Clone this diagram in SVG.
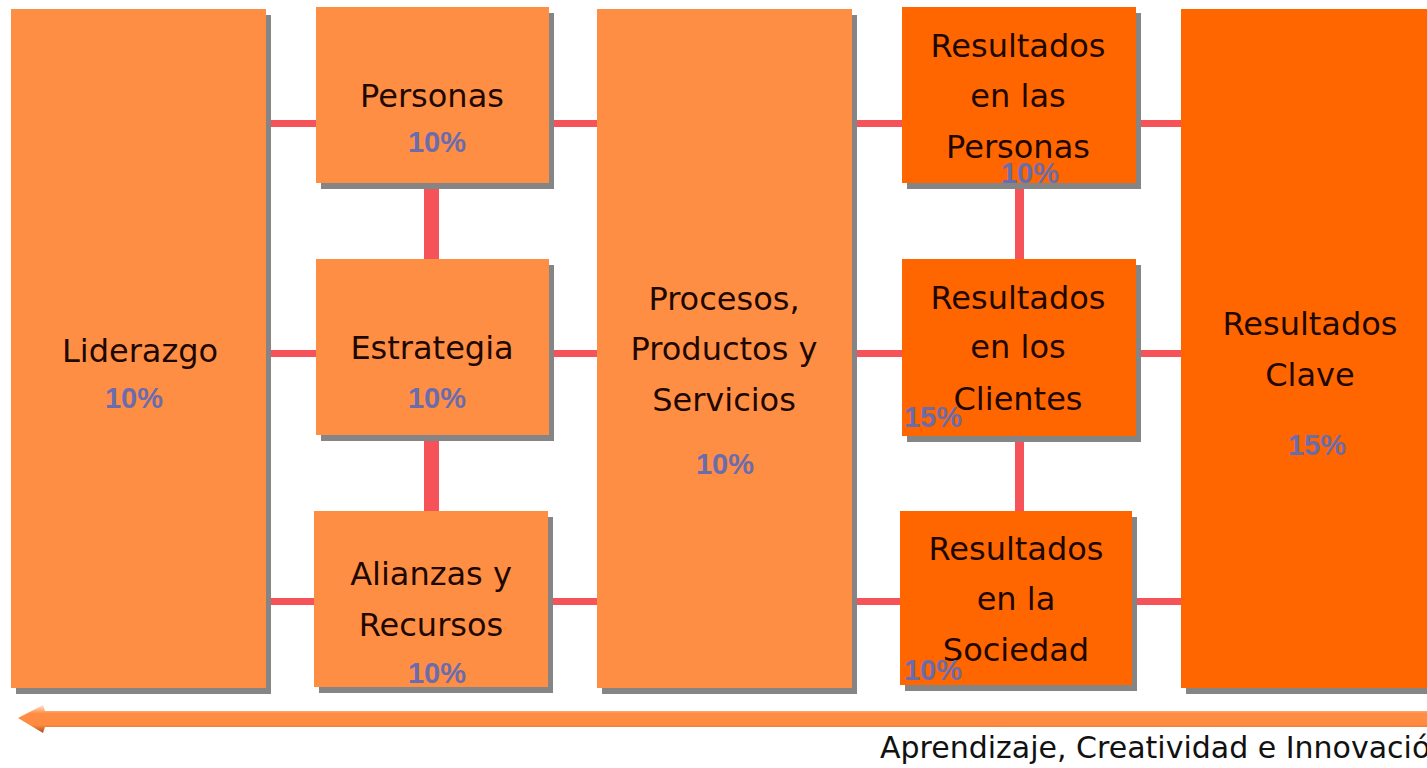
<svg xmlns="http://www.w3.org/2000/svg" width="1427" height="768" viewBox="0 0 1427 768">
<defs>
<linearGradient id="arrowGrad" x1="0" y1="0" x2="0" y2="1">
<stop offset="0" stop-color="#FFE2CC"/>
<stop offset="0.3" stop-color="#FF8E45"/>
<stop offset="0.72" stop-color="#FF8A40"/>
<stop offset="1" stop-color="#A84E1A"/>
</linearGradient>
<style>
.shadow{fill:#858585}
.light{fill:#FF8E45}
.dark{fill:#FF6600}
.lbl{font-family:"DejaVu Sans",sans-serif;font-size:32px;fill:#1E0800;text-anchor:middle}
.pct{font-family:"Liberation Sans",sans-serif;font-weight:bold;font-size:29px;fill:#6A6CAD;text-anchor:middle}
.conn{fill:#F5525A}
.foot{font-family:"DejaVu Sans",sans-serif;font-size:30px;fill:#111111}
</style>
</defs>
<rect width="1427" height="768" fill="#FFFFFF"/>
<g id="connectors">
<rect class="conn" x="266" y="120" width="52" height="7"/>
<rect class="conn" x="266" y="350" width="52" height="7"/>
<rect class="conn" x="266" y="598" width="52" height="7"/>
<rect class="conn" x="549" y="120" width="50" height="7"/>
<rect class="conn" x="549" y="350" width="50" height="7"/>
<rect class="conn" x="548" y="598" width="51" height="7"/>
<rect class="conn" x="852" y="120" width="52" height="7"/>
<rect class="conn" x="852" y="350" width="52" height="7"/>
<rect class="conn" x="852" y="598" width="50" height="7"/>
<rect class="conn" x="1136" y="120" width="47" height="7"/>
<rect class="conn" x="1136" y="350" width="47" height="7"/>
<rect class="conn" x="1132" y="598" width="51" height="7"/>
<rect class="conn" x="424" y="183" width="15" height="78"/>
<rect class="conn" x="424" y="435" width="15" height="78"/>
<rect class="conn" x="1015" y="183" width="9" height="78"/>
<rect class="conn" x="1015" y="436" width="9" height="77"/>
</g>
<g id="liderazgo">
<rect class="shadow" x="16" y="15" width="255" height="679"/>
<rect class="light" x="11" y="9" width="255" height="679"/>
<text class="lbl" x="140" y="362">Liderazgo</text>
<text class="pct" x="134" y="408">10%</text>
</g>
<g id="personas">
<rect class="shadow" x="321" y="13" width="233" height="176"/>
<rect class="light" x="316" y="7" width="233" height="176"/>
<text class="lbl" x="432" y="107">Personas</text>
<text class="pct" x="437" y="152">10%</text>
</g>
<g id="estrategia">
<rect class="shadow" x="321" y="265" width="233" height="176"/>
<rect class="light" x="316" y="259" width="233" height="176"/>
<text class="lbl" x="432" y="359">Estrategia</text>
<text class="pct" x="437" y="408">10%</text>
</g>
<g id="alianzas">
<rect class="shadow" x="319" y="517" width="234" height="176"/>
<rect class="light" x="314" y="511" width="234" height="176"/>
<text class="lbl" x="431" y="585">Alianzas y</text>
<text class="lbl" x="431" y="636">Recursos</text>
<text class="pct" x="437" y="683">10%</text>
</g>
<g id="procesos">
<rect class="shadow" x="602" y="15" width="255" height="679"/>
<rect class="light" x="597" y="9" width="255" height="679"/>
<text class="lbl" x="724" y="310">Procesos,</text>
<text class="lbl" x="724" y="360">Productos y</text>
<text class="lbl" x="724" y="411">Servicios</text>
<text class="pct" x="725" y="474">10%</text>
</g>
<g id="res-personas">
<rect class="shadow" x="907" y="13" width="234" height="176"/>
<rect class="dark" x="902" y="7" width="234" height="176"/>
<text class="lbl" x="1018" y="57">Resultados</text>
<text class="lbl" x="1018" y="107">en las</text>
<text class="lbl" x="1018" y="158">Personas</text>
<text class="pct" x="1030" y="183">10%</text>
</g>
<g id="res-clientes">
<rect class="shadow" x="907" y="265" width="234" height="177"/>
<rect class="dark" x="902" y="259" width="234" height="177"/>
<text class="lbl" x="1018" y="309">Resultados</text>
<text class="lbl" x="1018" y="358">en los</text>
<text class="lbl" x="1018" y="410">Clientes</text>
<text class="pct" x="933" y="427">15%</text>
</g>
<g id="res-sociedad">
<rect class="shadow" x="905" y="517" width="232" height="174"/>
<rect class="dark" x="900" y="511" width="232" height="174"/>
<text class="lbl" x="1016" y="560">Resultados</text>
<text class="lbl" x="1016" y="610">en la</text>
<text class="lbl" x="1016" y="661">Sociedad</text>
<text class="pct" x="933" y="680">10%</text>
</g>
<g id="res-clave">
<rect class="shadow" x="1186" y="15" width="250" height="679"/>
<rect class="dark" x="1181" y="9" width="250" height="679"/>
<text class="lbl" x="1310" y="335">Resultados</text>
<text class="lbl" x="1310" y="386">Clave</text>
<text class="pct" x="1317" y="455">15%</text>
</g>
<g id="arrow">
<path d="M18,718 L43,705 L45,711 L1427,711 L1427,727 L45,727 L43,733 Z" fill="url(#arrowGrad)"/>
<text class="foot" x="880" y="758">Aprendizaje, Creatividad e Innovació</text>
</g>
</svg>
